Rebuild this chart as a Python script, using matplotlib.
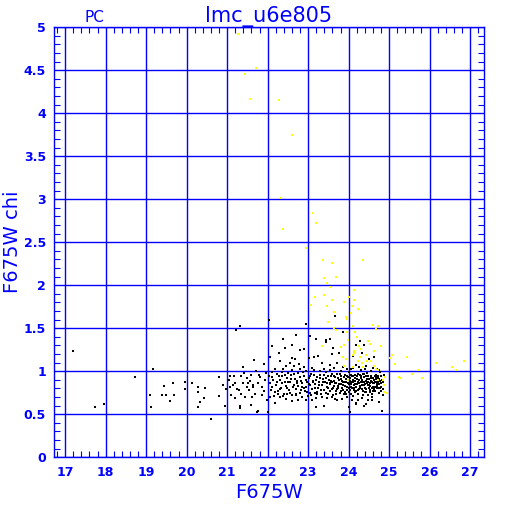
import numpy as np
import matplotlib.pyplot as plt
from matplotlib.ticker import MultipleLocator

# F675W magnitude vs chi
title = 'lmc_u6e805'
chip = 'PC'
x_ticks = [17, 18, 19, 20, 21, 22, 23, 24, 25, 26, 27]
y_ticks = [0, 0.5, 1, 1.5, 2, 2.5, 3, 3.5, 4, 4.5, 5]
y_tick_labels = ['0', '0.5', '1', '1.5', '2', '2.5', '3', '3.5', '4', '4.5', '5']

# sparse black stars (bright end and outliers)
black_sparse = [
    (17.2, 1.24), (17.73, 0.58), (17.97, 0.62), (18.72, 0.93), (19.09, 0.72),
    (19.11, 0.58), (19.16, 1.03), (19.38, 0.72), (19.45, 0.83), (19.5, 0.72),
    (19.59, 0.65), (19.67, 0.86), (19.68, 0.72), (19.96, 0.79), (19.96, 0.88),
    (20.12, 0.86), (20.28, 0.82), (20.29, 0.76), (20.28, 0.58), (20.34, 0.64),
    (20.42, 0.69), (20.6, 0.45), (20.81, 0.71), (20.95, 0.6), (20.98, 0.79),
    (21.07, 0.82), (21.15, 0.84), (21.2, 0.69), (21.25, 0.79), (21.3, 0.78),
    (21.31, 0.6), (21.31, 0.57), (21.38, 0.86), (21.51, 0.86), (21.53, 0.78),
    (21.58, 0.61), (21.64, 0.82), (20.79, 0.93), (21.07, 0.95), (21.18, 0.94),
    (21.33, 0.94), (21.48, 0.82), (21.56, 0.89), (21.63, 0.84), (21.69, 0.73),
    (21.82, 0.93), (21.87, 0.82), (21.94, 0.9), (21.74, 0.53), (22.02, 0.52),
    (21.76, 0.54), (21.21, 1.48), (21.31, 1.53), (22.04, 1.6), (22.94, 1.55),
    (23.66, 1.64), (23.04, 1.41), (22.71, 1.42), (22.37, 1.37), (23.19, 1.38),
    (23.43, 1.36), (23.55, 1.38), (23.44, 1.34), (24.28, 1.35), (22.1, 1.29),
    (22.59, 1.3), (22.42, 1.27), (22.8, 1.25), (22.89, 1.26), (22.28, 1.21),
    (22.07, 1.16), (22.6, 1.15), (22.68, 1.14), (23.01, 1.15), (23.14, 1.17),
    (23.25, 1.18), (23.62, 1.27), (23.77, 1.21), (24.18, 1.31), (24.34, 1.21),
    (24.39, 1.3), (21.66, 1.13), (21.38, 1.05), (21.71, 1.0), (22.19, 1.03),
    (22.37, 1.03), (22.65, 1.06), (22.78, 1.08), (22.89, 1.05), (23.35, 1.09),
    (23.55, 1.07), (23.72, 1.1), (23.86, 1.05), (24.19, 1.07), (24.42, 1.06),
    (24.69, 1.03), (22.17, 0.63), (22.3, 0.7), (22.47, 0.74), (22.76, 0.67),
    (23.09, 0.66), (23.22, 0.73), (23.39, 0.6), (23.67, 0.68), (23.95, 0.7),
    (24.03, 0.52), (24.19, 0.62), (24.39, 0.6), (24.57, 0.66), (24.82, 0.54),
    (24.74, 0.64), (24.01, 0.58), (24.18, 0.63), (24.42, 0.62), (23.19, 0.58),
    (23.4, 0.6), (22.19, 0.63), (22.6, 0.65), (22.94, 0.66), (21.05, 0.9),
    (21.42, 0.98), (21.9, 1.08), (22.3, 1.12), (22.5, 0.98), (22.55, 1.1),
    (23.85, 1.45), (24.12, 1.18), (24.5, 1.14), (24.62, 1.17), (23.6, 1.2),
]

# dense black clump between 22 and 25 mag
black_dense = [
    (22.05, 0.86), (22.08, 0.78), (22.12, 0.93), (22.15, 0.71), (22.2, 0.84),
    (22.22, 0.97), (22.26, 0.77), (22.3, 0.9), (22.33, 0.81), (22.36, 0.95),
    (22.4, 0.73), (22.43, 0.88), (22.45, 0.83), (22.49, 0.92), (22.52, 0.78),
    (22.55, 0.87), (22.58, 0.96), (22.61, 0.72), (22.64, 0.84), (22.67, 0.91),
    (22.7, 0.79), (22.73, 0.86), (22.76, 0.98), (22.8, 0.75), (22.83, 0.89),
    (22.86, 0.82), (22.9, 0.94), (22.93, 0.77), (22.96, 0.87), (22.99, 0.71),
    (23.02, 0.92), (23.05, 0.84), (23.08, 0.97), (23.1, 0.79), (23.13, 0.89),
    (23.16, 0.75), (23.18, 0.85), (23.21, 0.93), (23.24, 0.8), (23.27, 0.88),
    (23.29, 0.96), (23.31, 0.73), (23.34, 0.84), (23.37, 0.91), (23.39, 0.78),
    (23.42, 0.87), (23.44, 0.99), (23.46, 0.82), (23.49, 0.74), (23.51, 0.9),
    (23.53, 0.85), (23.56, 0.95), (23.58, 0.79), (23.6, 0.88), (23.62, 0.72),
    (23.64, 0.83), (23.66, 0.93), (23.68, 0.77), (23.7, 0.86), (23.72, 0.97),
    (23.74, 0.8), (23.76, 0.9), (23.78, 0.75), (23.8, 0.85), (23.82, 0.94),
    (23.84, 0.81), (23.86, 0.88), (23.88, 0.73), (23.9, 0.96), (23.92, 0.83),
    (23.94, 0.91), (23.96, 0.78), (23.98, 0.86), (24.0, 0.99), (24.02, 0.76),
    (24.04, 0.89), (24.06, 0.82), (24.08, 0.94), (24.1, 0.71), (24.12, 0.87),
    (24.14, 0.8), (24.16, 0.92), (24.18, 0.77), (24.2, 0.85), (24.22, 0.97),
    (24.24, 0.74), (24.26, 0.9), (24.28, 0.83), (24.3, 0.95), (24.32, 0.79),
    (24.34, 0.87), (24.36, 0.72), (24.38, 0.93), (24.4, 0.81), (24.42, 0.89),
    (24.44, 0.76), (24.46, 0.98), (24.48, 0.84), (24.5, 0.91), (24.52, 0.78),
    (24.54, 0.86), (24.56, 0.95), (24.58, 0.73), (24.6, 0.82), (24.62, 0.9),
    (24.64, 0.77), (24.66, 0.87), (24.68, 0.96), (24.7, 0.8), (24.72, 0.92),
    (24.74, 0.75), (24.76, 0.85), (24.78, 0.99), (24.8, 0.82), (24.83, 0.9),
    (23.45, 0.92), (23.5, 0.8), (23.55, 0.86), (23.6, 0.97), (23.65, 0.89),
    (23.7, 0.74), (23.75, 0.83), (23.8, 0.91), (23.85, 0.78), (23.9, 0.87),
    (23.95, 0.95), (24.0, 0.81), (24.05, 0.73), (24.1, 0.9), (24.15, 0.85),
    (24.2, 0.94), (24.25, 0.79), (24.3, 0.88), (24.35, 0.97), (24.4, 0.76),
    (24.45, 0.86), (24.5, 0.8), (24.55, 0.92), (24.6, 0.86), (24.65, 0.94),
    (24.7, 0.85), (24.75, 0.91), (24.8, 0.77), (23.93, 0.74), (23.97, 0.82),
    (24.03, 0.92), (24.07, 0.85), (24.13, 0.78), (24.17, 0.96), (24.23, 0.88),
    (24.27, 0.82), (24.33, 0.9), (24.37, 0.84), (24.43, 0.94), (24.47, 0.72),
    (24.53, 0.83), (24.57, 0.88), (24.63, 0.79), (24.67, 0.91), (24.73, 0.88),
    (24.77, 0.81), (23.58, 0.7), (23.83, 0.68), (24.08, 0.67), (24.33, 0.69),
    (24.58, 0.7), (24.22, 0.66), (23.72, 0.67), (24.48, 0.67), (23.47, 0.69),
    (23.3, 1.0), (23.55, 1.01), (23.8, 1.0), (24.05, 1.02), (24.3, 1.01),
    (24.55, 1.0), (24.75, 1.01), (23.15, 1.01), (22.95, 1.0), (22.6, 1.01),
    (22.35, 0.99), (22.1, 0.99), (21.95, 0.98), (21.85, 0.72), (21.6, 0.96),
    (21.75, 0.86), (21.45, 0.7), (22.25, 0.74), (22.45, 0.68), (22.7, 0.72),
    (22.95, 0.82), (23.2, 0.69), (23.05, 0.75), (23.35, 0.7), (22.85, 0.7),
    (22.03, 0.95), (22.07, 0.7), (22.11, 0.82), (22.14, 0.9), (22.18, 0.76),
    (22.23, 0.88), (22.27, 0.94), (22.31, 0.79), (22.35, 0.86), (22.38, 0.71),
    (22.42, 0.96), (22.47, 0.8), (22.5, 0.87), (22.54, 0.75), (22.57, 0.91),
    (22.62, 0.82), (22.66, 0.97), (22.69, 0.74), (22.72, 0.89), (22.75, 0.83),
    (22.79, 0.93), (22.82, 0.78), (22.85, 0.86), (22.88, 0.99), (22.91, 0.8),
    (22.95, 0.9), (22.98, 0.76), (23.01, 0.85), (23.04, 0.94), (23.07, 0.72),
    (23.11, 0.87), (23.14, 0.96), (23.17, 0.81), (23.2, 0.9), (23.23, 0.76),
    (23.26, 0.84), (23.3, 0.92), (23.33, 0.78), (23.36, 0.87), (23.4, 0.96),
    (23.43, 0.75), (23.47, 0.86), (23.5, 0.94), (23.54, 0.77), (23.57, 0.89),
    (23.61, 0.81), (23.63, 0.95), (23.67, 0.86), (23.71, 0.79), (23.73, 0.92),
    (23.77, 0.85), (23.79, 0.97), (23.81, 0.77), (23.83, 0.89), (23.87, 0.84),
    (23.89, 0.93), (23.91, 0.76), (23.93, 0.87), (23.96, 0.82), (23.99, 0.93),
    (24.01, 0.85), (24.03, 0.78), (24.05, 0.96), (24.07, 0.88), (24.09, 0.81),
    (24.11, 0.95), (24.13, 0.84), (24.15, 0.76), (24.17, 0.89), (24.19, 0.82),
    (24.21, 0.91), (24.23, 0.78), (24.25, 0.86), (24.27, 0.96), (24.29, 0.8),
    (24.31, 0.92), (24.33, 0.84), (24.35, 0.77), (24.37, 0.88), (24.39, 0.97),
    (24.41, 0.85), (24.43, 0.79), (24.45, 0.91), (24.47, 0.88), (24.49, 0.95),
    (24.51, 0.84), (24.53, 0.76), (24.55, 0.89), (24.57, 0.81), (24.59, 0.92),
    (24.61, 0.77), (24.63, 0.86), (24.65, 0.82), (24.67, 0.93), (24.69, 0.88),
    (24.71, 0.83), (24.73, 0.95), (24.75, 0.8), (24.77, 0.89), (24.79, 0.86),
    (24.81, 0.94), (24.84, 0.79), (24.86, 0.87), (24.88, 0.96), (24.85, 0.72),
    (24.1, 1.04), (24.25, 1.05), (24.4, 1.03), (24.6, 1.04), (23.95, 1.03),
    (23.65, 1.04), (23.4, 1.03), (23.1, 1.04), (22.8, 1.02), (22.45, 1.06),
    (21.2, 0.86), (21.35, 0.74), (21.5, 0.92), (21.62, 0.7), (21.78, 0.96),
    (21.9, 0.77), (21.98, 0.66), (21.1, 0.72), (20.9, 0.84), (20.45, 0.8),
]

# yellow stars (flagged)
yellow_pts = [
    (21.28, 4.92), (21.43, 4.45), (21.71, 4.53), (21.56, 4.16), (22.27, 4.15),
    (22.61, 3.75), (22.33, 3.01), (22.37, 2.65), (23.12, 2.84), (23.19, 2.72),
    (22.94, 2.43), (23.36, 2.29), (23.6, 2.26), (24.36, 2.29), (23.39, 2.08),
    (23.68, 2.1), (23.47, 2.03), (23.54, 1.98), (24.13, 1.94), (23.16, 1.86),
    (23.39, 1.89), (24.0, 1.86), (24.13, 1.83), (23.59, 1.83), (23.88, 1.81),
    (23.06, 1.77), (23.46, 1.76), (24.08, 1.76), (24.23, 1.72), (23.64, 1.69),
    (23.93, 1.63), (23.97, 1.61), (23.5, 1.57), (24.1, 1.52), (24.59, 1.54),
    (24.73, 1.52), (24.67, 1.49), (23.65, 1.5), (23.7, 1.48), (23.95, 1.45),
    (24.15, 1.45), (23.98, 1.36), (24.47, 1.35), (23.88, 1.31), (24.25, 1.29),
    (23.34, 1.29), (24.79, 1.29), (23.8, 1.28), (24.13, 1.24), (24.31, 1.26),
    (24.62, 1.24), (24.44, 1.19), (25.02, 1.15), (25.08, 1.19), (23.87, 1.16),
    (23.93, 1.14), (24.1, 1.19), (24.13, 1.21), (24.23, 1.12), (24.33, 1.09),
    (24.46, 1.12), (24.62, 1.06), (24.67, 1.03), (24.72, 1.01), (25.15, 1.08),
    (23.88, 1.06), (24.1, 1.05), (24.84, 0.9), (24.9, 0.93), (24.87, 0.76),
    (24.94, 0.75), (25.25, 0.93), (23.98, 0.9), (24.36, 1.05), (25.43, 1.17),
    (26.15, 1.1), (26.86, 1.12), (26.55, 1.05), (26.65, 1.01), (25.71, 1.01),
    (25.82, 0.92), (25.56, 0.97), (25.28, 0.92), (24.88, 0.84), (24.73, 0.9),
    (24.27, 1.16), (24.52, 1.32), (24.2, 1.4), (24.05, 1.68), (24.56, 1.12),
]

blue = '#0000ff'

fig = plt.figure(figsize=(5.12, 5.12), dpi=100)
ax = fig.add_axes([0.106, 0.107, 0.839, 0.840])

bx, by = zip(*(black_sparse + black_dense))
yx, yy = zip(*yellow_pts)
ax.scatter(bx, by, s=2.4, marker='s', color='black', linewidths=0, zorder=3)
ax.scatter(yx, yy, s=2.4, marker='s', color='#ffff00', linewidths=0, zorder=4)

ax.set_xlim(16.73, 27.34)
ax.set_ylim(0, 5)
ax.set_xticks(x_ticks)
ax.set_yticks(y_ticks)
ax.set_yticklabels(y_tick_labels)
ax.xaxis.set_minor_locator(MultipleLocator(0.2))
ax.yaxis.set_minor_locator(MultipleLocator(0.1))
ax.grid(True, which='major', color=blue, linewidth=1.0, zorder=1)
ax.set_axisbelow(True)

for s in ax.spines.values():
    s.set_color(blue)
    s.set_linewidth(1.0)

ax.tick_params(which='both', direction='in', top=True, right=True, colors=blue)
ax.tick_params(which='major', length=0, pad=6)
ax.tick_params(which='minor', length=4, width=0.8)
for lab in ax.get_xticklabels() + ax.get_yticklabels():
    lab.set_fontsize(9)
    lab.set_fontweight('bold')
    lab.set_color(blue)

ax.set_xlabel('F675W', color=blue, fontsize=14, labelpad=3)
ax.set_ylabel('F675W chi', color=blue, fontsize=14)
ax.yaxis.set_label_coords(-0.075, 0.5)
ax.set_title(title, color=blue, fontsize=15, pad=2)
ax.text(17.73, 5.03, chip, color=blue, fontsize=11, ha='center', va='bottom')

fig.savefig('out.png', dpi=100)
